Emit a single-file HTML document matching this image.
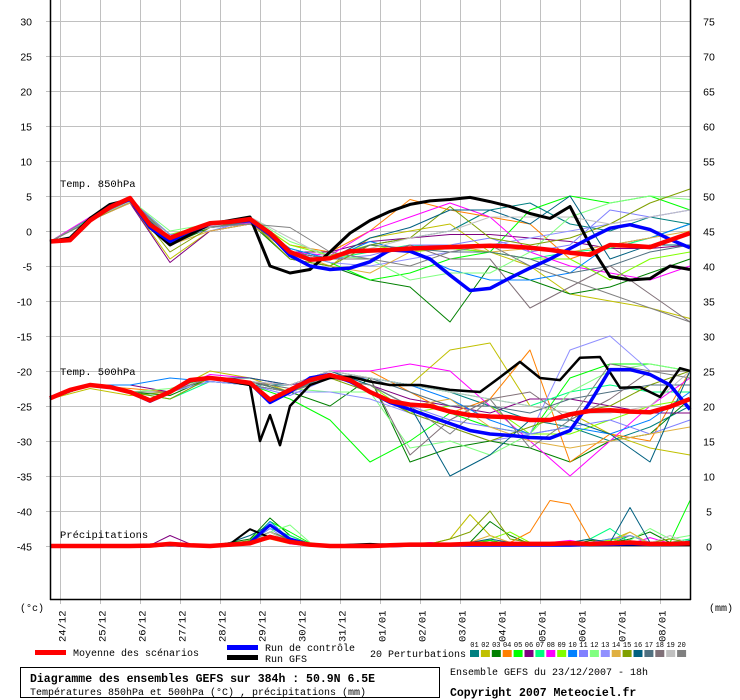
<!DOCTYPE html>
<html><head><meta charset="utf-8"><style>
body{margin:0;background:#fff;}
svg{display:block;font-family:"Liberation Mono","DejaVu Sans Mono",monospace;}
</style></head><body>
<svg id="chart" width="740" height="700" viewBox="0 0 740 700" xmlns="http://www.w3.org/2000/svg">
<g id="grid"></g>
<g id="series"></g>
<g id="axes"></g>
<text x="60" y="187" font-size="10.5">Temp. 850hPa</text>
<text x="60" y="375" font-size="10.5">Temp. 500hPa</text>
<text x="60" y="538" font-size="10.5">Précipitations</text>
<text x="20" y="611" font-size="10">(°c)</text>
<text x="709" y="611" font-size="10">(mm)</text>
<g>
<rect x="35" y="650" width="31" height="5" fill="#ff0000"/>
<text x="73" y="656" font-size="10">Moyenne des scénarios</text>
<rect x="227" y="645" width="31" height="5" fill="#0000ff"/>
<rect x="227" y="655" width="31" height="5" fill="#000000"/>
<text x="265" y="651" font-size="10">Run de contrôle</text>
<text x="265" y="662" font-size="10">Run GFS</text>
<text x="370" y="657" font-size="10">20 Perturbations</text>
<g id="legsq"></g>
</g>
<rect x="20.5" y="667.5" width="419" height="30" fill="none" stroke="#000"/>
<text x="30" y="682" font-size="11.5" font-weight="bold">Diagramme des ensembles GEFS sur 384h : 50.9N 6.5E</text>
<text x="30" y="695" font-size="10">Températures 850hPa et 500hPa (°C) , précipitations (mm)</text>
<text x="450" y="675" font-size="10">Ensemble GEFS du 23/12/2007 - 18h</text>
<text x="450" y="696" font-size="11.5" font-weight="bold">Copyright 2007 Meteociel.fr</text>
</svg>
<script>
const dateLabels=["24/12","25/12","26/12","27/12","28/12","29/12","30/12","31/12","01/01","02/01","03/01","04/01","05/01","06/01","07/01","08/01"];
const leftTicks=[30,25,20,15,10,5,0,-5,-10,-15,-20,-25,-30,-35,-40,-45];
const rightTicks=[75,70,65,60,55,50,45,40,35,30,25,20,15,10,5,0];
const pertColors=["#008080","#c0c000","#008000","#ff8000","#00ff00","#800080","#00ff80","#ff00ff","#80ff00","#0080ff","#8080ff","#80ff80","#9090ff","#e0b040","#80a000","#006080","#507080","#807078","#c0c0c0","#808080"];

const mean850=[-1.5,-1.3,1.5,3.4,4.7,0.9,-1,0.1,1.1,1.3,1.7,-0.3,-3,-4.1,-3.9,-2.9,-2.8,-2.7,-2.5,-2.4,-2.3,-2.2,-2.1,-2.2,-2.4,-2.7,-3.1,-3.4,-2,-2.1,-2.3,-1.3,-0.3];
const control850=[-1.5,-1.3,1.5,3.5,4.5,0.5,-1.5,0,1,1.3,1.5,-0.5,-3.5,-5,-5.5,-5.3,-4.4,-2.7,-2.9,-4,-6.3,-8.5,-8.2,-6.7,-5.3,-4,-2.5,-1,0.4,0.9,0.2,-1.2,-2.4];
const gfs850=[-1.5,-1,1.8,3.8,4.5,0.5,-2,-0.5,1,1.5,2,-5,-6,-5.5,-3,-0.3,1.5,2.8,3.8,4.3,4.5,4.8,4.2,3.5,2.5,1.8,3.5,-2,-6.5,-7,-6.8,-5,-5.5];
const mean500=[-23.9,-22.7,-22,-22.3,-23,-24.2,-23,-21.3,-21,-21.3,-21.7,-24.1,-22.7,-21.3,-20.6,-21.3,-23,-24.3,-24.8,-25,-25.8,-26.3,-26.5,-26.6,-27,-27,-26.2,-25.7,-25.6,-25.8,-25.9,-25.1,-24];
const control500=[-23.9,-22.7,-22,-22.3,-23,-24.3,-23,-21.3,-21,-21.3,-21.7,-24.5,-23,-21,-20.5,-21.5,-23,-24.5,-25.5,-26.5,-27.5,-28.5,-29,-29.2,-29.5,-29.6,-28.5,-24.5,-19.8,-19.8,-20.5,-22,-25.5];
const gfs500Hours=[0,12,24,36,48,60,72,84,96,108,120,126,132,138,144,156,168,180,192,204,222,240,258,270,282,294,306,318,330,342,354,366,378,384];
const gfs500=[-24,-22.7,-22,-22.3,-23,-24.2,-23,-21.5,-21,-21.5,-22,-30,-26.3,-30.6,-25,-22,-21,-20.8,-21.5,-22,-22,-22.7,-23,-20.9,-18.7,-21,-21.3,-18.1,-18,-22.4,-22.3,-23.7,-19.6,-20];
const meanPrecip=[0,0,0,0,0,0.05,0.3,0.1,0,0.2,0.4,1.3,0.6,0.2,0,0,0,0.1,0.2,0.2,0.2,0.3,0.3,0.3,0.3,0.3,0.4,0.3,0.4,0.5,0.3,0.3,0.4];
const controlPrecip=[0,0,0,0,0,0,0.2,0,0,0.1,0.5,3,1,0.2,0,0,0,0,0.1,0.1,0.1,0.1,0.1,0.1,0.1,0.1,0.1,0.2,0.2,0.3,0.2,0.2,0.3];
const gfsPrecip=[0,0,0,0,0,0,0.1,0,0,0.3,2.4,1.2,0.8,0.1,0,0.2,0.3,0.2,0.2,0.3,0.1,0.1,0.2,0.3,0.1,0.3,0.2,0.1,0.1,0.1,0.1,0.1,0.1];

const pert850=[
[-1.5,1.8,4.5,-1.5,0.5,1.5,-3,-4,-2,-1,0,3,4,1,0,2,1],
[-1.5,1.5,4,-4,0,1,-3,-5,-1,0,1,-3,-5,-9,-10,-11,-12.5],
[-1.5,1.4,4.2,-2,0.5,1.2,-4,-5,-7,-8,-13,-5,-7,-9,-8,-6,-4],
[-1.5,1.6,4.3,-2,1,2,-2,-3,0,4.5,3,2,1,-4,-2,-1,1],
[-1.5,1.5,4.5,-0.5,0.5,1,-3,-4.5,-7,-6,-4,-3,3,5,4,5,3],
[-1.5,1.5,4,-4.5,0,1,-3,-3,-1.5,-1,-0.5,-0.5,-1,-1.5,-2.5,-2.5,-2],
[-1.5,1.7,4.6,-1.5,1,1.5,-2.5,-4,-3,-2,-2.5,-3,-4,-3,-2.5,-1,1],
[-1.5,2,4.8,-1,0.5,1.2,-3,-3.5,0,2,4,2,-3,-5,-6,-7,-5],
[-1.5,1.6,4.2,-0.5,1,1.8,-2,-3.5,-2,-3,-2.5,-3,-4,-4,-7,-4,-3],
[-1.5,1.5,4.4,-1,0.5,1.5,-2.5,-4,-1.5,-3,-5.5,-7,-7,-6,-2,-1,1],
[-1.5,1.5,4.5,-0.5,0,1.5,-3,-4,-3.5,-2,-2,-1,-3,-2,3,2,3],
[-1.5,1.6,4.5,0,1,2,-1.5,-3.5,-4,-7,-6,-6,-3,2,4,5,4.5],
[-1.5,1.5,4.3,-1,0.5,1,-3,-4.5,-5,-4,-3,-2,-1,0,1,2,3],
[-1.5,1.5,4,-2,0,1,-3,-5,-6,-3,-2,-3,-2.5,-3,-2,-1,0],
[-1.5,1.5,4.2,-3,0.5,1.5,-4,-5,-2,-1,3.5,-1,-2,-1,1,4,6],
[-1.5,1.6,4.4,-1.5,1,1.5,-3,-4,-1,0.5,3,3,1,5,-4,-2,-2],
[-1.5,1.5,4.5,-1,0.5,1.3,-3,-4,-2,-2.5,-3,-3,-4,-6,-5,-3,-2],
[-1.5,1.5,4.5,-1,1,1.5,-3,-4,-4,-2,-4,-4,-11,-8,-5,-9,-13],
[-1.5,1.6,4.2,-1,0.5,2,-1,-4,-2.5,-1,0,2,2,2,1,2,3],
[-1.5,1.5,4.5,-1.2,0.6,1,0.5,-3,-4,-5,-3,-2,-5,-7,-9,-11,-13]];

const pert500=[
[-24,-22,-23,-23,-21,-22,-22,-20,-21,-22,-23,-25,-27,-28,-30,-28,-25],
[-24,-22.5,-23.5,-23,-20,-21,-23,-21,-21,-22,-17,-16,-25,-26,-29,-31,-32],
[-24,-22,-23,-23.5,-21,-22,-23,-25,-21,-33,-31,-30,-31,-33,-30,-29,-24],
[-24,-22,-22.5,-23,-21,-21,-22,-20,-20,-23,-26,-24,-17,-33,-29,-30,-20],
[-24,-22,-23,-23,-21.5,-22,-24,-27,-33,-30,-26,-28,-29,-21,-19,-19,-20],
[-24,-22,-22,-23,-21,-21.5,-22,-21,-22,-24,-25,-26,-24,-24,-25,-26,-26],
[-24,-22,-23,-24,-21.5,-22,-23,-20.5,-21,-22,-23,-24,-25,-23,-22,-23,-23],
[-24,-22,-23,-23,-20.5,-21,-22,-20,-20,-19,-20,-25,-30,-35,-30,-25,-21],
[-24,-22,-23,-23,-21,-21.5,-23,-21,-22,-26,-25,-25,-29,-29,-27,-25,-24],
[-24,-22,-22,-21,-21.5,-22,-23,-21,-21,-22,-24,-27,-29,-28,-29,-27,-23],
[-24,-22,-23,-23,-21.5,-22,-23.5,-21,-22,-25,-27,-28,-29,-28,-27,-29,-27],
[-24,-22,-23,-22.5,-21,-21.5,-22.5,-23,-23,-31,-30,-32,-29,-23,-20,-19,-20],
[-24,-22,-23,-23,-21.5,-22,-23,-23,-24,-26,-28,-30,-29,-17,-15,-20,-20],
[-24,-22,-23,-23,-21,-21.5,-23,-21,-22,-25,-24,-28,-30,-31,-30,-29,-28],
[-24,-22,-23,-24,-21,-21.5,-23,-21,-23,-26,-28,-30,-28,-26,-25,-22,-20],
[-24,-22,-23,-23,-21,-21,-22,-20,-22,-25,-35,-32,-27,-27,-29,-33,-20],
[-24,-22,-23,-23,-21,-21.5,-23,-20.5,-21,-23,-25,-25,-26,-24,-23,-22,-22],
[-24,-22,-23,-23,-21,-21.5,-22.5,-20.5,-21,-32,-27,-24,-23,-27,-24,-20,-20],
[-24,-22,-23,-23,-21,-21.5,-22,-20,-21,-22,-23,-24,-25,-26,-26,-25,-20],
[-24,-22,-23,-23,-21,-22,-23,-21,-22,-25,-29,-24,-31,-27,-19,-20,-21]];

const pertPrecip=[
[0,0,0,0,0,0,0.3,0,0,0.2,0.5,3,1,0.2,0,0,0,0.1,0.2,0.3,0,0.5,0.8,0.2,0,0.3,0.5,0.2,0.3,1.5,0.5,0.2,0.8],
[0,0,0,0,0,0.2,0.2,0,0,0,0.3,2,0.5,0,0,0,0,0.3,0,0.3,1,4.5,1.5,0.5,0.2,0,0.3,0.5,0.8,2,0.3,0.5,1],
[0,0,0,0,0,0,0.2,0.1,0,0.5,1,4,1.5,0.3,0,0,0,0,0.2,0.1,0.3,0.5,3.5,1.5,0.3,0.2,0.1,0.8,0.5,1,2,0.5,0.3],
[0,0,0,0,0,0.1,0.3,0.2,0,0.1,0.3,1,0.3,0.1,0,0,0,0.2,0.3,0.5,0.3,0.2,0.5,0.5,2,6.5,6,1,0.3,0.5,0.3,0.2,0.5],
[0,0,0,0,0,0,0.2,0,0,0.2,0.8,3.5,2,0.4,0,0,0,0,0.1,0.1,0.2,0.3,0.8,0.3,0.3,0.5,0.3,0.5,1,0.5,0.3,0.5,6.5],
[0,0,0,0,0,0.1,1.5,0.3,0,0.1,0.3,1.5,0.5,0,0,0,0,0.2,0.2,0.1,0.1,0.3,0.3,0.2,0.3,0.2,0.4,0.3,0.3,0.4,0.2,0.3,0.3],
[0,0,0,0,0,0,0.2,0.1,0,0.1,0.5,2.5,1.5,0.2,0,0,0,0,0.1,0.2,0.3,0.2,0.5,0.3,0.2,0.2,0.5,1,2.5,0.5,0.3,0.5,1],
[0,0,0,0,0,0,0.3,0,0,0,0.2,1.5,0.3,0,0,0,0,0.1,0.2,0.5,0.3,0.2,0.2,0.1,0.3,0.5,0.8,0.3,0.2,0.3,1.2,0.4,0.2],
[0,0,0,0,0,0.1,0.3,0.1,0,0.2,0.5,2,1,0.2,0,0,0,0.1,0.2,0.3,0.2,0.3,1,2,0.5,0.3,0.3,0.5,0.8,1.5,0.4,0.3,0.5],
[0,0,0,0,0,0,0.2,0,0,0.3,0.5,3.5,1,0.2,0,0,0,0,0.1,0.2,0.3,0.2,0.3,0.3,0.2,0.2,0.3,0.4,0.5,0.3,0.2,0.3,0.4],
[0,0,0,0,0,0,0.1,0,0,0.1,0.5,2.5,0.6,0.1,0,0,0,0,0.1,0.1,0.2,0.3,0.2,0.3,0.4,0.3,0.3,0.5,1,1.5,0.5,0.3,0.4],
[0,0,0,0,0,0,0.2,0.1,0,0.2,0.4,2,3,0.5,0,0,0,0,0.2,0.1,0.1,0.3,0.4,0.5,0.3,0.2,0.3,0.2,0.4,0.8,2.5,1,1.5],
[0,0,0,0,0,0,0.1,0,0,0.2,0.3,1.5,0.8,0.1,0,0,0,0,0.1,0.1,0.2,0.2,0.2,0.3,0.4,0.2,0.3,0.4,0.3,0.5,0.4,0.3,0.3],
[0,0,0,0,0,0.1,0.2,0.3,0,0.1,0.3,1.2,0.4,0.1,0,0,0,0.2,0.3,0.2,0.3,0.5,1.5,0.5,0.3,0.3,0.4,0.5,0.3,2,0.3,0.4,0.6],
[0,0,0,0,0,0,0.3,0.1,0,0.3,0.8,2,1,0.2,0,0,0,0.1,0.2,0.3,1,2,5,1,0.5,0.3,0.3,0.4,0.5,0.3,0.5,1,0.5],
[0,0,0,0,0,0,0.2,0,0,0.5,1.5,3,1,0.2,0,0,0,0.1,0.1,0.2,0.3,0.5,1,0.5,0.3,0.3,0.5,1,0.5,5.5,0.5,0.3,0.4],
[0,0,0,0,0,0,0.2,0,0,0.2,0.6,2,0.8,0.2,0,0,0,0.1,0.1,0.2,0.2,0.3,0.4,0.3,0.3,0.2,0.3,0.4,0.3,0.5,0.3,0.4,0.3],
[0,0,0,0,0,0,0.1,0,0,0.1,0.4,1.5,0.5,0.1,0,0,0,0,0.1,0.2,0.2,0.3,0.3,0.2,0.3,0.3,0.4,0.3,0.5,0.3,0.4,0.3,0.4],
[0,0,0,0,0,0.1,0.2,0.1,0,0.1,0.4,2,0.6,0.1,0,0,0,0.1,0.2,0.3,0.2,0.3,0.3,0.5,0.2,0.3,0.2,0.4,0.5,0.3,0.4,1.5,0.3],
[0,0,0,0,0,0,0.2,0,0,0.2,0.3,1.5,0.5,0.1,0,0,0,0.1,0.1,0.2,0.2,0.2,0.3,0.3,0.3,0.2,0.3,0.3,0.4,0.5,0.3,0.4,0.3]];

const NS="http://www.w3.org/2000/svg";
function xScale(h){return 50+h*20/12;}
function yTemp(v){return 21+(30-v)*7;}
function yPrecip(mm){return 546-mm*7;}
function mk(tag,parent){const e=document.createElementNS(NS,tag);parent.appendChild(e);return e;}

const grid=document.getElementById('grid');
leftTicks.forEach((t,i)=>{
  const y=yTemp(t)+0.5;
  const l=mk('line',grid);
  
  
  l.setAttribute('x1',46);l.setAttribute('x2',690);l.setAttribute('y1',y);l.setAttribute('y2',y);
  l.setAttribute('stroke','#c0c0c0');
  const tl=mk('text',grid);
  
  
  tl.setAttribute('x',32);tl.setAttribute('y',y+4);tl.setAttribute('text-anchor','end');tl.setAttribute('font-size','10.5');
  tl.setAttribute('font-family','Liberation Sans, sans-serif');
  tl.textContent=t;
  const tr=mk('text',grid);
  
  
  tr.setAttribute('x',709);tr.setAttribute('y',y+4);tr.setAttribute('text-anchor','middle');tr.setAttribute('font-size','10.5');
  tr.setAttribute('font-family','Liberation Sans, sans-serif');
  tr.textContent=rightTicks[i];
});
dateLabels.forEach((d,k)=>{
  const x=60+40*k+0.5;
  const l=mk('line',grid);
  
  
  l.setAttribute('x1',x);l.setAttribute('x2',x);l.setAttribute('y1',0);l.setAttribute('y2',604);
  l.setAttribute('stroke','#c0c0c0');
  const t=mk('text',grid);
  
  
  t.setAttribute('font-size','10.5');
  t.setAttribute('transform','translate('+(x+5)+',642) rotate(-90)');
  t.textContent=d;
});

const series=document.getElementById('series');
function drawLine(name,hours,vals,yf,color,w){
  const p=mk('path',series);
  
  
  p.setAttribute('d',vals.map((v,i)=>(i?'L':'M')+xScale(hours[i]).toFixed(1)+' '+yf(v).toFixed(1)).join(' '));
  p.setAttribute('fill','none');p.setAttribute('stroke',color);p.setAttribute('stroke-width',w);
  p.setAttribute('stroke-linejoin','round');
}
function hrs(n,step){const a=[];for(let i=0;i<n;i++)a.push(i*step);return a;}
pert850.forEach((s,k)=>drawLine('perturbation-850-'+(k+1),hrs(s.length,24),s,yTemp,pertColors[k],1));
pert500.forEach((s,k)=>drawLine('perturbation-500-'+(k+1),hrs(s.length,24),s,yTemp,pertColors[k],1));
pertPrecip.forEach((s,k)=>drawLine('perturbation-precip-'+(k+1),hrs(s.length,12),s,yPrecip,pertColors[k],1));
drawLine('gfs-850',hrs(gfs850.length,12),gfs850,yTemp,'#000',3);
drawLine('gfs-500',gfs500Hours,gfs500,yTemp,'#000',2.5);
drawLine('gfs-precip',hrs(gfsPrecip.length,12),gfsPrecip,yPrecip,'#000',2);
drawLine('control-850',hrs(control850.length,12),control850,yTemp,'#0000ff',3.5);
drawLine('control-500',hrs(control500.length,12),control500,yTemp,'#0000ff',3.5);
drawLine('control-precip',hrs(controlPrecip.length,12),controlPrecip,yPrecip,'#0000ff',3);
drawLine('mean-850',hrs(mean850.length,12),mean850,yTemp,'#ff0000',4.5);
drawLine('mean-500',hrs(mean500.length,12),mean500,yTemp,'#ff0000',4.5);
drawLine('mean-precip',hrs(meanPrecip.length,12),meanPrecip,yPrecip,'#ff0000',4.5);

const axes=document.getElementById('axes');
[[50.5,0,50.5,600,'left-axis'],[690.5,0,690.5,600,'right-axis'],[50,599.5,691,599.5,'bottom-axis']].forEach(a=>{
  const l=mk('line',axes);
  
  
  l.setAttribute('x1',a[0]);l.setAttribute('y1',a[1]);l.setAttribute('x2',a[2]);l.setAttribute('y2',a[3]);
  l.setAttribute('stroke','#000');l.setAttribute('stroke-width',1.5);
});

const legsq=document.getElementById('legsq');
pertColors.forEach((c,k)=>{
  const x=470+k*10.9;
  const r=mk('rect',legsq);
  
  
  r.setAttribute('x',x);r.setAttribute('y',650);r.setAttribute('width',9);r.setAttribute('height',7);r.setAttribute('fill',c);
  const t=mk('text',legsq);
  
  
  t.setAttribute('x',x+4.5);t.setAttribute('y',647);t.setAttribute('font-size','7');t.setAttribute('text-anchor','middle');
  t.textContent=String(k+1).padStart(2,'0');
});
</script>
</body></html>
